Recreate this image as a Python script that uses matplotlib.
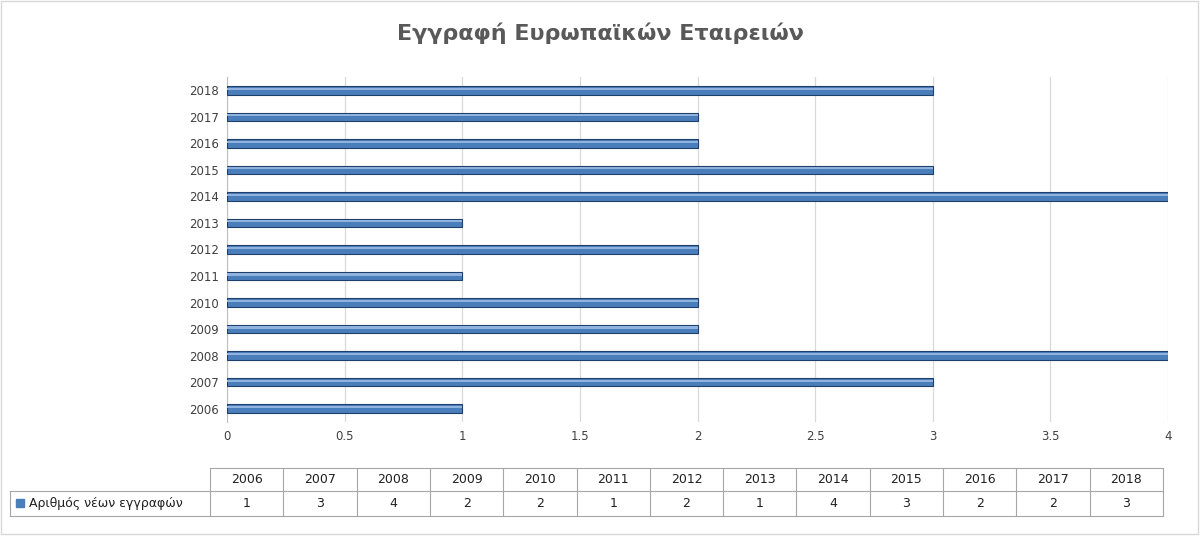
import matplotlib
matplotlib.use("Agg")
import matplotlib.pyplot as plt
from matplotlib.patches import Rectangle

years = ["2006", "2007", "2008", "2009", "2010", "2011", "2012",
         "2013", "2014", "2015", "2016", "2017", "2018"]
counts = [1, 3, 4, 2, 2, 1, 2, 1, 4, 3, 2, 2, 3]
series_name = "Αριθμός νέων εγγραφών"
title = "Εγγραφή Ευρωπαϊκών Εταιρειών"
xticks = [0, 0.5, 1, 1.5, 2, 2.5, 3, 3.5, 4]

W, H = 1200, 536
fig = plt.figure(figsize=(12, 5.36), dpi=100)
fig.patch.set_facecolor("white")

# chart area
ax = fig.add_axes([227 / W, 1 - 422 / H, (1168 - 227) / W, (422 - 77) / H])
y = range(len(years))
ax.barh(y, counts, height=0.32, color="#4A7EBB", edgecolor="#1F3F6A", lw=0.8, zorder=3)
ax.barh([v + 0.06 for v in y], counts, height=0.08, color="#8FB2DE", lw=0, zorder=4)
ax.set_xlim(0, 4)
ax.set_ylim(-0.5, len(years) - 0.5)
ax.set_yticks(list(y))
ax.set_yticklabels(years, fontsize=8.5, color="#404040")
ax.set_xticks(xticks)
ax.set_xticklabels([f"{t:g}" for t in xticks], fontsize=8.5, color="#404040")
ax.tick_params(length=0, pad=6)
ax.xaxis.grid(True, color="#D9D9D9", lw=0.9, zorder=0)
for sp in ("top", "right", "bottom"):
    ax.spines[sp].set_visible(False)
ax.spines["left"].set_color("#BFBFBF")
fig.text(0.5, 1 - 33 / H, title, ha="center", va="center", fontsize=16,
         fontweight="bold", color="#595959")

# data table drawn in pixel coords
tax = fig.add_axes([0, 0, 1, 1])
tax.set_xlim(0, W); tax.set_ylim(H, 0); tax.axis("off")
x0, x1, lx = 210, 1163, 10
r0, r1, r2 = 468, 491, 516
cw = (x1 - x0) / len(years)
lc = "#A6A6A6"
tax.plot([x0, x1], [r0, r0], color=lc, lw=0.8)
tax.plot([lx, x1], [r1, r1], color=lc, lw=0.8)
tax.plot([lx, x1], [r2, r2], color=lc, lw=0.8)
tax.plot([lx, lx], [r1, r2], color=lc, lw=0.8)
for i in range(len(years) + 1):
    xx = x0 + i * cw
    tax.plot([xx, xx], [r0, r2], color=lc, lw=0.8)
for i, (yr, c) in enumerate(zip(years, counts)):
    cx = x0 + (i + 0.5) * cw
    tax.text(cx, (r0 + r1) / 2, yr, ha="center", va="center", fontsize=9, color="#202020")
    tax.text(cx, (r1 + r2) / 2, str(c), ha="center", va="center", fontsize=9, color="#202020")
tax.add_patch(Rectangle((16, 499), 8, 8, color="#4A7EBB"))
tax.text(29, (r1 + r2) / 2, series_name, ha="left", va="center", fontsize=9, color="#202020")
# outer chart border
tax.add_patch(Rectangle((1, 1), W - 3, H - 3, fill=False, ec="#D9D9D9", lw=1))

fig.savefig("out.png", dpi=100)
